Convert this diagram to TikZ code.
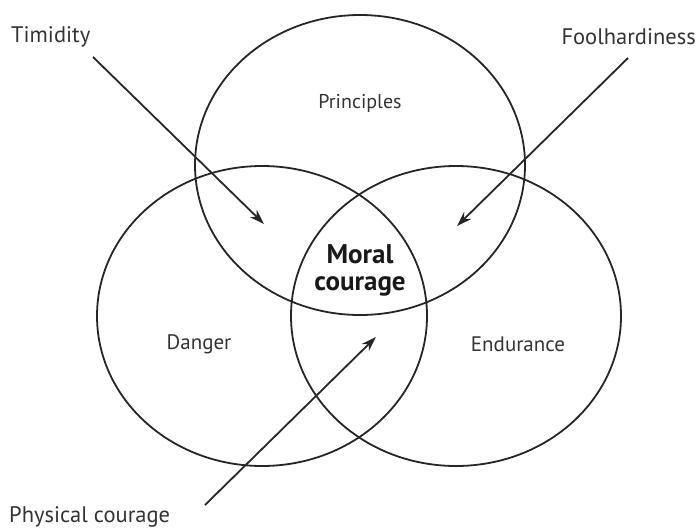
\documentclass[tikz,border=0pt]{standalone}
\usepackage{fontspec}
\setmainfont{PT Sans}
\usetikzlibrary{shapes.geometric,arrows.meta}
\begin{document}
\begin{tikzpicture}[x=1pt,y=-1pt,
  set/.style={draw=black!85,line width=1.8pt,ellipse,minimum width=330pt,minimum height=300pt,inner sep=0pt},
  lab/.style={font=\fontsize{21}{24}\selectfont,text=black!80,inner sep=0pt},
  outer/.style={font=\fontsize{22.5}{26}\selectfont,text=black!80,inner sep=0pt},
  arr/.style={draw=black!85,line width=1.8pt,-{Stealth[length=15pt,width=10pt]}}]
\useasboundingbox (0,0) rectangle (700,529);
\node[set] (P) at (360,165) {};
\node[set] (D) at (262,316) {};
\node[set] (E) at (456,316) {};
\node[lab,font=\fontsize{20}{22}\selectfont] (pl) at (360,103) {Principles};
\node[lab] (dl) at (199,344) {Danger};
\node[lab] (el) at (518,344) {Endurance};
\node[font=\bfseries\fontsize{27}{27}\selectfont,align=center,inner sep=0pt,text=black!90] (mc) at (360,270) {Moral\\courage};
\node[outer,anchor=west] (tim) at (11,37) {Timidity};
\node[outer,anchor=east] (fool) at (696,37) {Foolhardiness};
\node[outer,anchor=west] (phys) at (9,517) {Physical courage};
\coordinate (t1) at (93,57);
\coordinate (t2) at (264,224);
\coordinate (f1) at (628,58);
\coordinate (f2) at (457,226);
\coordinate (p1) at (205,505);
\coordinate (p2) at (376,337);
\draw[arr] (t1) -- (t2);
\draw[arr] (f1) -- (f2);
\draw[arr] (p1) -- (p2);
\end{tikzpicture}
\end{document}
